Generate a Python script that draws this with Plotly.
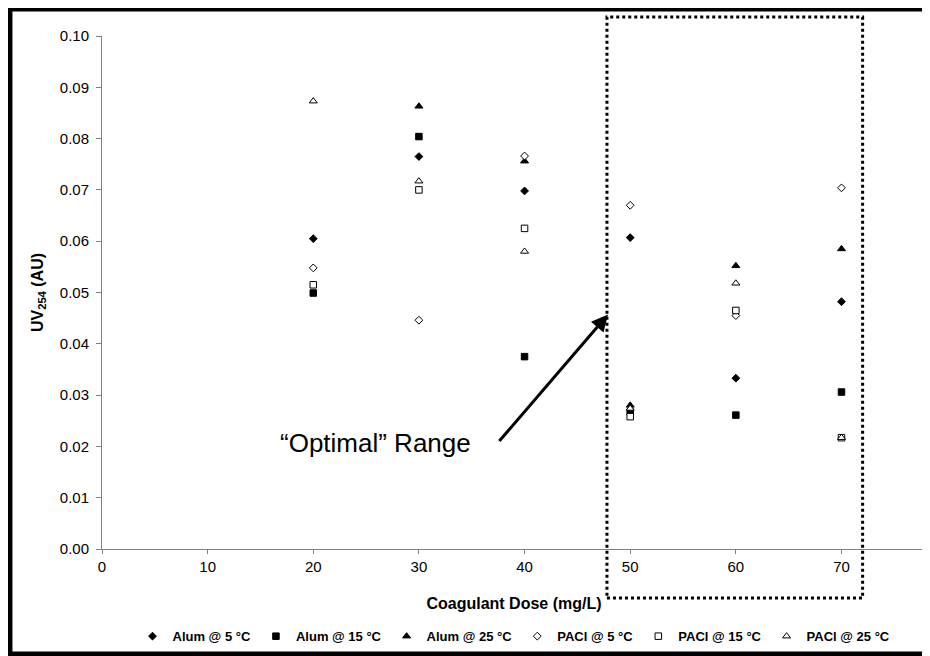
import plotly.graph_objects as go

dose = [20, 30, 40, 50, 60, 70]
alum_5 = [0.0605, 0.0765, 0.0698, 0.0607, 0.0333, 0.0482]
alum_15 = [0.0499, 0.0804, 0.0375, 0.0267, 0.0261, 0.0306]
alum_25 = [None, 0.0863, 0.0756, 0.0280, 0.0552, 0.0585]
pacl_5 = [0.0548, 0.0446, 0.0766, 0.0670, 0.0455, 0.0704]
pacl_15 = [0.0515, 0.0700, 0.0625, 0.0258, 0.0465, 0.0217]
pacl_25 = [0.0873, 0.0717, 0.0580, 0.0274, 0.0518, 0.0217]

series = [
    ("Alum @ 5 °C", alum_5, "diamond", "black", 6),
    ("Alum @ 15 °C", alum_15, "square", "black", 6.5),
    ("Alum @ 25 °C", alum_25, "triangle-up", "black", 7),
    ("PACl @ 5 °C", pacl_5, "diamond", "white", 6),
    ("PACl @ 15 °C", pacl_15, "square", "white", 6.5),
    ("PACl @ 25 °C", pacl_25, "triangle-up", "white", 7),
]

fig = go.Figure()
for name, vals, sym, fill, size in series:
    fig.add_trace(go.Scatter(
        x=dose, y=vals, mode="markers", name=name,
        marker=dict(symbol=sym, color=fill, size=size,
                    line=dict(color="black", width=1)),
    ))

font_family = "Liberation Sans, Arial, sans-serif"
axis_col = "#808080"

# page body adds an 8px offset, so the figure is 922x648
fig.update_layout(
    width=922, height=648,
    margin=dict(l=94, r=4, t=28, b=107, autoexpand=False),
    paper_bgcolor="white", plot_bgcolor="white",
    font=dict(family=font_family, size=15, color="black"),
    showlegend=True,
    legend=dict(orientation="h", x=0.5, xanchor="center", y=-0.17, yanchor="middle",
                font=dict(size=13, family=font_family, color="black", weight="bold"),
                itemwidth=30, tracegroupgap=0, bgcolor="rgba(0,0,0,0)"),
    xaxis=dict(range=[0, 78], dtick=10, tick0=0, showgrid=False, zeroline=False,
               showline=True, linecolor=axis_col, linewidth=1,
               ticks="outside", ticklen=4, tickcolor=axis_col,
               title=dict(text="<b>Coagulant Dose (mg/L)</b>", standoff=23,
                          font=dict(size=16))),
    yaxis=dict(range=[0, 0.10], dtick=0.01, tick0=0, tickformat=".2f",
               showgrid=False, zeroline=False,
               showline=True, linecolor=axis_col, linewidth=1,
               ticks="outside", ticklen=5, tickcolor=axis_col,
               ticklabelstandoff=4,
               title=dict(text="<b>UV<sub>254</sub> (AU)</b>", standoff=12,
                          font=dict(size=16))),
)

# dotted "optimal range" box
fig.add_shape(type="rect", xref="x", yref="paper",
              x0=47.8, x1=72.0, y0=-0.0955, y1=1.037,
              line=dict(color="black", width=3, dash="dot"))

# outer frame
fig.add_shape(type="rect", xref="paper", yref="paper",
              x0=-0.1117, x1=1.03, y0=-0.2047, y1=1.0526,
              line=dict(color="black", width=5))

# arrow and label
fig.add_annotation(x=47.9, y=0.0457, xref="x", yref="y",
                   ax=-110, ay=128, showarrow=True,
                   arrowhead=2, arrowsize=1.1, arrowwidth=3, arrowcolor="black",
                   text="")
fig.add_annotation(x=25.9, y=0.0207, xref="x", yref="y", showarrow=False,
                   text="“Optimal” Range",
                   font=dict(size=26, family=font_family, color="black"))

fig.write_html("out.html")
